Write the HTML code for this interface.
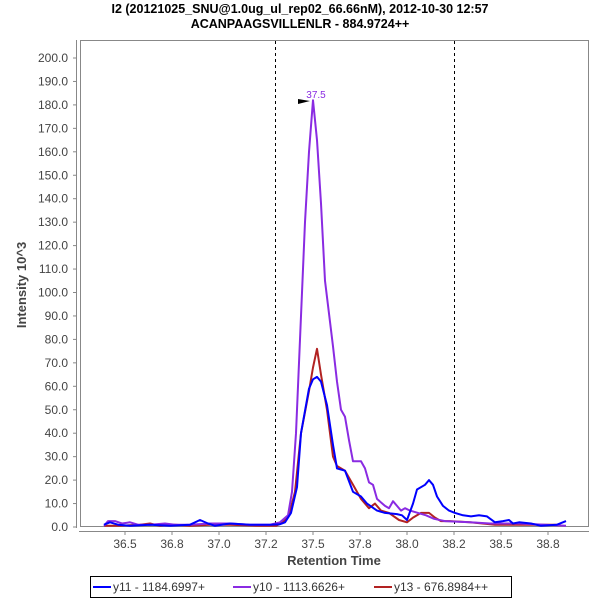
<!DOCTYPE html>
<html><head><meta charset="utf-8"><style>
body{margin:0;background:#fff;width:600px;height:600px;overflow:hidden;font-family:"Liberation Sans","DejaVu Sans",sans-serif}
</style></head><body>
<svg id="s" width="600" height="600" xmlns="http://www.w3.org/2000/svg" font-family="Liberation Sans, DejaVu Sans, sans-serif">
<text x="300" y="13" text-anchor="middle" font-size="12.5" font-weight="bold" fill="#000">I2 (20121025_SNU@1.0ug_ul_rep02_66.66nM), 2012-10-30 12:57</text>
<text x="300" y="28" text-anchor="middle" font-size="12.5" font-weight="bold" fill="#000">ACANPAAGSVILLENLR - 884.9724++</text>
<rect x="80.5" y="40.5" width="508" height="486" fill="#fff" stroke="#888" stroke-width="1"/>
<line x1="76.5" y1="40" x2="76.5" y2="528" stroke="#888"/>
<line x1="79" y1="531.5" x2="589" y2="531.5" stroke="#888"/>
<line x1="275.5" y1="41" x2="275.5" y2="526" stroke="#000" stroke-dasharray="3,3"/>
<line x1="454.5" y1="41" x2="454.5" y2="526" stroke="#000" stroke-dasharray="3,3"/>
<g id="yt" font-size="12" fill="#444" text-anchor="end"></g>
<g id="xt" font-size="12" fill="#444" text-anchor="middle"></g>
<text x="334" y="565" text-anchor="middle" font-size="13" font-weight="bold" fill="#444">Retention Time</text>
<text transform="translate(26,285) rotate(-90)" text-anchor="middle" font-size="13" fill="#444" font-weight="bold">Intensity 10^3</text>
<g id="series" fill="none" stroke-width="2" stroke-linejoin="round"></g>
<polygon points="298,99 310,101 298,104" fill="#000"/>
<text x="316" y="98" text-anchor="middle" font-size="10" fill="#8a2be2">37.5</text>
<rect x="90.5" y="576.5" width="421" height="21" fill="#fff" stroke="#000"/>
<line x1="93" y1="587" x2="111" y2="587" stroke="#0000ff" stroke-width="2"/>
<text x="113" y="591" font-size="12" fill="#333">y11 - 1184.6997+</text>
<line x1="233" y1="587" x2="251" y2="587" stroke="#8a2be2" stroke-width="2"/>
<text x="253" y="591" font-size="12" fill="#333">y10 - 1113.6626+</text>
<line x1="374" y1="587" x2="392" y2="587" stroke="#b22222" stroke-width="2"/>
<text x="394" y="591" font-size="12" fill="#333">y13 - 676.8984++</text>
</svg>
<script>
var NS="http://www.w3.org/2000/svg";
function el(t,a,p,txt){var e=document.createElementNS(NS,t);for(var k in a)e.setAttribute(k,a[k]);if(txt)e.textContent=txt;p.appendChild(e);return e;}
var yt=document.getElementById('yt');
for(var v=0;v<=200;v+=10){var y=527-2.345*v;el('text',{x:68,y:y+4},yt,v.toFixed(1));el('line',{x1:73,y1:y,x2:77,y2:y,stroke:'#888'},yt);}
var xt=document.getElementById('xt');
var lab=['36.5','36.8','37.0','37.2','37.5','37.8','38.0','38.2','38.5','38.8'];
for(var i=0;i<10;i++){var x=125+47*i;el('text',{x:x,y:548},xt,lab[i]);el('line',{x1:x,y1:532,x2:x,y2:535,stroke:'#888'},xt);}
function Y(v){return 527-2.345*v;}
var blue=[[104,1],[110,2],[118,1],[130,0.5],[150,1],[170,0.5],[190,1],[200,3],[208,1.5],[215,0.5],[230,1.5],[250,1],[270,1],[280,1.2],[285,2],[291,6],[297,17],[301,40],[309,59],[313,63],[317,64],[321,62],[327,52],[333,35],[337,25],[345,24],[353,15],[361,13],[367,10],[377,7],[385,6],[397,5.5],[402,5],[407,3],[413,10],[417,16],[425,18],[429,20],[433,18],[437,13],[443,9],[449,7],[455,6],[463,5],[471,4.5],[479,5],[487,4.5],[495,2],[503,2.5],[509,3],[513,1.5],[519,2],[531,1.5],[541,0.5],[557,1],[566,2.5]];
var purple=[[104,0.5],[108,2.5],[115,2.5],[122,1.5],[130,2],[138,1],[150,1],[165,1.5],[175,1],[190,1],[210,1.5],[230,1.5],[250,1],[270,1],[280,2],[288,5],[292,15],[296,40],[300,80],[305,130],[309,160],[313,182],[317,165],[321,138],[325,105],[333,77],[337,62],[341,50],[345,47],[349,37],[353,28],[361,28],[365,25],[369,19],[373,18],[377,12],[385,9],[389,8],[393,11],[397,9],[401,7],[405,8],[410,7],[418,6],[426,5],[434,3.5],[445,2.5],[470,2],[490,1.5],[520,1.5],[545,1],[566,0.5]];
var red=[[104,0.5],[120,0.5],[140,1],[150,1.5],[160,0.5],[175,1],[190,0.5],[210,1],[230,1],[260,0.5],[276,0.5],[283,2],[289,5],[295,15],[301,40],[309,58],[313,68],[317,76],[321,65],[327,50],[333,30],[337,26],[345,24],[353,18],[361,12],[369,8],[375,10],[381,7],[389,6],[399,3],[407,2],[413,4],[421,6],[429,6],[435,4],[441,2.5],[450,2.5],[470,2],[495,1],[530,1],[560,1]];
var g=document.getElementById('series');
[[red,'#b22222'],[purple,'#8a2be2'],[blue,'#0000ff']].forEach(function(s){
 el('polyline',{points:s[0].map(function(p){return p[0]+','+Y(p[1]).toFixed(1)}).join(' '),stroke:s[1]},g);});
</script>
</body></html>
